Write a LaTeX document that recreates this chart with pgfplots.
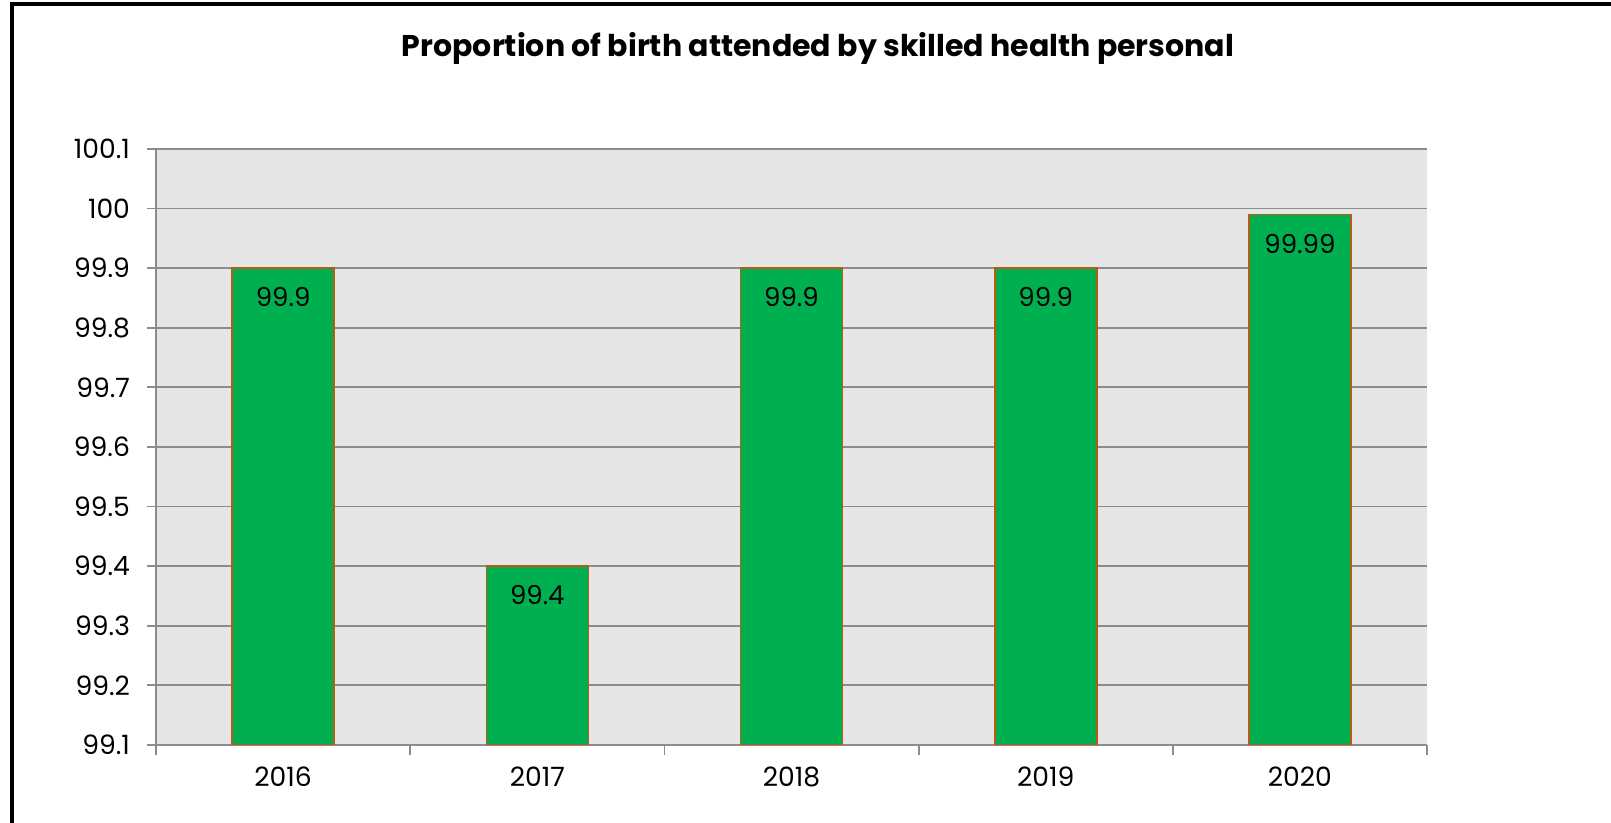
\documentclass[border=0pt]{standalone}
\usepackage{pgfplots}
\pgfplotsset{compat=1.18}
\usepackage{fontspec}
\setmainfont{Poppins}
\definecolor{barfill}{HTML}{00B050}
\definecolor{baredge}{RGB}{180,92,20}
\definecolor{plotbg}{HTML}{E6E6E6}
\definecolor{gridc}{HTML}{8C8C8C}
\begin{document}
\begin{tikzpicture}
\useasboundingbox (0,0) rectangle (805.5pt,411.5pt);
\draw[line width=1.6pt, black] (6pt,-2pt) -- (6pt,409.5pt) -- (810pt,409.5pt);
\node[anchor=base, font=\fontsize{15}{18}\selectfont\bfseries] at (409pt,383pt) {Proportion of birth attended by skilled health personal};
\begin{axis}[
  at={(78pt,39pt)}, anchor=south west,
  scale only axis, width=635.5pt, height=298pt,
  xmin=-0.5, xmax=4.5, ymin=99.1, ymax=100.1,
  axis background/.style={fill=plotbg},
  axis x line*=bottom, axis y line*=left,
  axis line style={gridc, line width=0.9pt},
  xtick={0,1,2,3,4},
  xticklabels={2016,2017,2018,2019,2020},
  minor xtick={-0.5,0.5,1.5,2.5,3.5,4.5},
  major x tick style={draw=none},
  minor tick length=5pt,
  tick align=outside,
  major tick length=4.5pt,
  every tick/.style={gridc, line width=0.9pt},
  ytick={99.1,99.2,99.3,99.4,99.5,99.6,99.7,99.8,99.9,100,100.1},
  yticklabels={99.1,99.2,99.3,99.4,99.5,99.6,99.7,99.8,99.9,100,100.1},
  ymajorgrids,
  major grid style={gridc, line width=0.9pt},
  tick label style={font=\fontsize{13.3}{16}\selectfont, black},
  yticklabel style={xshift=-5pt},
  xticklabel style={yshift=-3pt},
  /pgf/number format/assume math mode=true,
  ybar, bar width=51pt,
  nodes near coords={\pgfmathprintnumber[fixed,precision=2]{\pgfplotspointmeta}},
  every node near coord/.append style={font=\fontsize{13}{16}\selectfont, black, anchor=center, yshift=-14.5pt},
]
\addplot[fill=barfill, draw=baredge, line width=0.8pt] coordinates {(0,99.9) (1,99.4) (2,99.9) (3,99.9) (4,99.99)};
\end{axis}
\end{tikzpicture}
\end{document}
